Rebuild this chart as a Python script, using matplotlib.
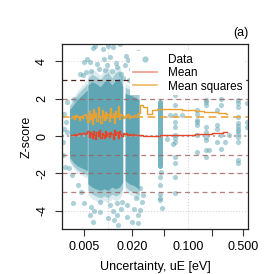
import numpy as np
import matplotlib
matplotlib.use('Agg')
import matplotlib.pyplot as plt
from matplotlib.lines import Line2D

plt.rcParams['font.family'] = ['Liberation Sans', 'DejaVu Sans']
plt.rcParams['font.size'] = 9

teal = '#5fa5b4'
red = '#e2472a'
orange = '#e9a132'

# dense core envelopes (x in eV, z low/high), one list per block
core_a_x = [0.0033, 0.0037, 0.0041, 0.0045, 0.0050, 0.0055]
core_a_lo = [-1.3, -1.6, -1.8, -1.9, -2.0, -2.1]
core_a_hi = [1.6, 1.9, 2.2, 2.4, 2.6, 2.8]

core_b_x = [0.0056, 0.0063, 0.0070, 0.0080, 0.0090, 0.0100, 0.0112, 0.0125, 0.0140, 0.0153]
core_b_lo = [-2.9, -3.1, -3.2, -3.3, -3.2, -3.3, -3.1, -3.2, -3.1, -2.8]
core_b_hi = [3.1, 3.3, 3.2, 3.0, 3.3, 3.4, 3.1, 3.4, 3.5, 3.0]

core_c_x = [0.0164, 0.0185, 0.0210, 0.0245]
core_c_lo = [-2.7, -2.9, -3.0, -3.2]
core_c_hi = [2.6, 2.5, 2.4, 2.2]

# column of points at one uncertainty
col_x = 0.045
col_lo = -1.6
col_hi = 1.8

# individual points
pts_x = [0.0055, 0.0069, 0.0086, 0.0101, 0.0116, 0.0141, 0.0089, 0.0106, 0.0238, 0.020,
         0.0178, 0.0059, 0.0072, 0.0097, 0.0129, 0.0163, 0.0048, 0.0045, 0.0053, 0.020,
         0.0226, 0.0037, 0.0041, 0.0031, 0.0028, 0.0030, 0.0064, 0.0166, 0.0221, 0.0050,
         0.0062, 0.0078, 0.0092, 0.0112, 0.0125, 0.0145, 0.0155, 0.0185, 0.0215, 0.0232,
         0.0195, 0.0027, 0.0027, 0.0029, 0.0032, 0.0035, 0.0036, 0.0042, 0.0046, 0.0028,
         0.0031, 0.0050, 0.0059, 0.0062, 0.0066, 0.0079, 0.0106, 0.0116, 0.0129, 0.0133,
         0.0150, 0.0172, 0.0200, 0.0238, 0.0253, 0.0064, 0.0100, 0.0253, 0.0268, 0.0274,
         0.0119, 0.0238, 0.0080, 0.0130, 0.0145, 0.0175, 0.0210, 0.0225,
         0.047, 0.045, 0.045, 0.045, 0.045, 0.046, 0.045,
         0.055, 0.065, 0.070, 0.070, 0.070, 0.070, 0.070, 0.070, 0.070, 0.070, 0.070,
         0.070, 0.070, 0.070, 0.060, 0.085,
         0.13, 0.13, 0.13, 0.13, 0.13, 0.13, 0.13,
         0.17, 0.17, 0.17, 0.17, 0.17, 0.17, 0.17, 0.17, 0.17, 0.185,
         0.23, 0.23, 0.23, 0.23, 0.26, 0.26, 0.26, 0.26, 0.29, 0.33,
         0.43, 0.43, 0.43, 0.43, 0.43, 0.43, 0.43, 0.43, 0.43, 0.43, 0.43, 0.43, 0.43,
         0.56, 0.56, 0.56]
pts_z = [4.1, 4.8, 4.65, 4.8, 4.75, 4.9, 4.1, 4.2, 4.5, 4.2,
         4.05, 3.95, 3.85, 3.8, 3.7, 3.8, 3.25, 3.3, 3.4, 3.3,
         2.35, 2.0, 1.65, 1.8, 0.35, 0.75, 4.7, 4.3, 4.45, 3.95,
         3.5, 3.6, 3.55, 3.45, 3.9, 3.3, 3.1, 3.0, 2.9, 2.7,
         3.6, -0.3, -1.0, -1.65, -1.7, -2.1, -3.6, -2.6, -3.0, 1.2,
         0.2, -3.6, -4.2, -3.8, -4.0, -4.05, -3.7, -4.0, -4.2, -4.75,
         -3.5, -4.35, -4.6, -4.65, -3.95, -4.6, -4.4, -2.8, -3.5, -3.15,
         -4.5, -4.2, -3.5, -3.6, -3.9, -3.7, -3.9, -3.3,
         -3.85, -3.4, -3.1, -2.6, -2.2, -1.9, -3.3,
         -0.15, -0.4, 2.2, 1.65, 1.1, 0.75, 0.5, 0.05, -0.1, -0.3, -1.1,
         -1.45, -2.2, -3.05, 1.1, 1.1,
         1.2, 1.4, 0.85, 0.75, 0.6, 0.05, -0.85,
         1.95, 1.8, 1.65, 0.5, 0.2, -0.05, -0.2, -0.75, -1.1, -0.75,
         1.4, 0.6, 0.4, -0.3, 2.0, 1.65, 0.05, -0.7, -0.3, 0.05,
         1.9, 1.75, 1.55, 1.0, 0.7, 0.55, 0.4, 0.25, 0.1, -0.05, -0.3, -1.3, -1.45,
         1.75, 0.75, 0.5]

# running mean and mean squares
line_x = [0.0034, 0.0036, 0.0038, 0.0040, 0.0042, 0.0044, 0.0046, 0.0048, 0.0050, 0.0052, 0.0054,
          0.0056, 0.0058, 0.0060, 0.0062, 0.0064, 0.0066, 0.0068, 0.0070, 0.0073, 0.0076,
          0.0079, 0.0082, 0.0085, 0.0088, 0.0091, 0.0094, 0.0097, 0.0100,
          0.0104, 0.0108, 0.0112, 0.0116, 0.0120, 0.0125, 0.0130, 0.0135, 0.0140, 0.0145,
          0.0150, 0.0156,
          0.0162, 0.0170, 0.0178, 0.0186, 0.0195, 0.0205, 0.0215, 0.0225, 0.0235, 0.0245, 0.0260,
          0.0290, 0.0330, 0.0380, 0.0440, 0.0450, 0.0520, 0.0600, 0.0700, 0.0800, 0.0900, 0.1000,
          0.1150, 0.1300, 0.1500, 0.1700, 0.1900, 0.2100, 0.2300, 0.2500, 0.2700, 0.2900, 0.3100]
mean_z = [0.05, 0.08, 0.10, 0.06, 0.12, 0.15, 0.10, 0.14, 0.18, 0.12, 0.15,
          0.25, -0.05, 0.20, 0.10, -0.10, 0.28, 0.05, -0.15, 0.22, 0.00,
          0.30, -0.10, 0.18, 0.08, -0.12, 0.25, 0.02, 0.15,
          -0.05, 0.22, 0.10, -0.15, 0.30, 0.05, 0.20, -0.08, 0.28, 0.12,
          0.00, 0.18,
          0.10, 0.15, 0.05, 0.12, 0.08, 0.10, 0.06, 0.08, 0.05, 0.04, 0.03,
          0.02, 0.02, 0.01, 0.01, 0.03, 0.03, 0.04, 0.05, 0.05, 0.06, 0.07,
          0.08, 0.10, 0.10, 0.12, 0.13, 0.14, 0.15, 0.16, 0.17, 0.20, 0.21]
msq_z = [0.95, 1.05, 0.90, 1.10, 1.00, 0.85, 1.05, 0.95, 1.10, 1.20, 0.95,
         0.75, 1.35, 0.90, 1.20, 0.65, 1.45, 1.00, 1.25, 0.80, 1.55,
         1.05, 0.70, 1.40, 1.10, 0.85, 1.30, 0.95, 1.20,
         0.80, 1.50, 1.00, 1.25, 0.70, 1.35, 1.05, 1.60, 0.90, 1.20,
         1.10, 0.95,
         1.00, 1.10, 1.20, 0.95, 1.05, 1.00, 1.15, 1.10, 1.20, 1.25, 1.65,
         1.55, 1.20, 1.40, 1.45, 1.45, 1.45, 1.45, 1.45, 1.42, 1.40, 1.38,
         1.38, 1.35, 1.32, 1.30, 1.28, 1.28, 1.26, 1.25, 1.25, 1.22, 1.20]

ref_levels = [-3, -2, -1, 2]

fig = plt.figure(figsize=(2.74, 2.74), dpi=100)
ax = fig.add_axes([62 / 274, 1 - 229 / 274, 186 / 274, 185 / 274])
ax.set_xscale('log')
ax.xaxis.remove_overlapping_locs = False

# grid
for gy in [-4, -2, 2, 4]:
    ax.axhline(gy, color='#d8d8d8', lw=0.8, ls=':', zorder=0)
for gx in [0.01, 0.1]:
    ax.axvline(gx, color='#d8d8d8', lw=0.8, ls=':', zorder=0)

# data
for cx, lo, hi in [(core_a_x, core_a_lo, core_a_hi), (core_b_x, core_b_lo, core_b_hi),
                   (core_c_x, core_c_lo, core_c_hi)]:
    lo = np.array(lo)
    hi = np.array(hi)
    ax.fill_between(cx, lo * 1.08, hi * 1.08, color=teal, alpha=0.22, lw=0, zorder=1)
    ax.fill_between(cx, lo, hi, color=teal, alpha=0.45, lw=0, zorder=1)
    ax.fill_between(cx, lo * 0.88, hi * 0.88, color=teal, lw=0, zorder=1)
ax.vlines(col_x, col_lo, col_hi, color=teal, lw=3.6, alpha=0.85, capstyle='round', zorder=1)
ax.scatter(pts_x, pts_z, s=14, color=teal, alpha=0.5, lw=0, zorder=2)

# reference lines
ax.axhline(0, color='#b0b0b0', lw=1.5, ls=(0, (1, 1.5)), zorder=3)
for lvl in ref_levels:
    ax.axhline(lvl, color='#a0605c', lw=0.9, ls=(0, (4, 3)), alpha=0.8, zorder=3)
ax.axhline(3, color='#4a2222', lw=0.9, ls=(0, (4, 3)), zorder=3)
ax.axhline(1, color=orange, lw=1.1, ls=(0, (5, 3)), zorder=3)

ax.plot(line_x, mean_z, color=red, lw=1.0, drawstyle='steps-mid', zorder=4)
ax.plot(line_x, msq_z, color=orange, lw=1.0, drawstyle='steps-mid', zorder=4)

ax.set_xlim(0.00265, 0.57)
ax.set_ylim(-4.97, 4.92)

ax.set_xticks([0.005, 0.02, 0.05, 0.2, 0.5])
ax.set_xticklabels([])
ax.set_xticks([0.005, 0.02, 0.1, 0.5], minor=True)
ax.set_xticklabels(['0.005', '0.020', '0.100', '0.500'], minor=True)
ax.tick_params(axis='x', which='minor', length=0, pad=9, labelsize=9)
ax.tick_params(axis='x', which='major', length=5, width=0.8, color='#333333')
ax.set_yticks([-4, -2, 0, 2, 4])
ax.set_yticklabels(['-4', '-2', '0', '2', '4'], rotation=90, va='center')
ax.tick_params(axis='y', length=5, width=0.8, pad=5, color='#333333', labelsize=9)
for sp in ax.spines.values():
    sp.set_linewidth(0.9)
    sp.set_color('#222222')
    sp.set_zorder(8)

handles = [Line2D([], [], marker='o', ls='none', color=teal, alpha=0.55, markersize=4.5, mec='none'),
           Line2D([], [], color='#ee9a88', lw=1.2),
           Line2D([], [], color='#f0b860', lw=1.2)]
leg = ax.legend(handles, ['Data', 'Mean', 'Mean squares'], loc='upper right',
                bbox_to_anchor=(0.99, 0.97), frameon=True, facecolor='white', edgecolor='none',
                framealpha=1, fancybox=False, borderpad=0.25, labelspacing=0.12,
                handlelength=2.0, handletextpad=0.9, borderaxespad=0.1, fontsize=8.5)
leg.set_zorder(6)

fig.text(155 / 274, 1 - 267 / 274, 'Uncertainty, uE [eV]', ha='center', va='center', fontsize=9)
fig.text(27 / 274, 1 - 136.5 / 274, 'Z-score', ha='center', va='center', rotation=90, fontsize=9)
fig.text(241 / 274, 1 - 33 / 274, '(a)', ha='center', va='center', fontsize=9)

fig.savefig('out.png', dpi=100)
